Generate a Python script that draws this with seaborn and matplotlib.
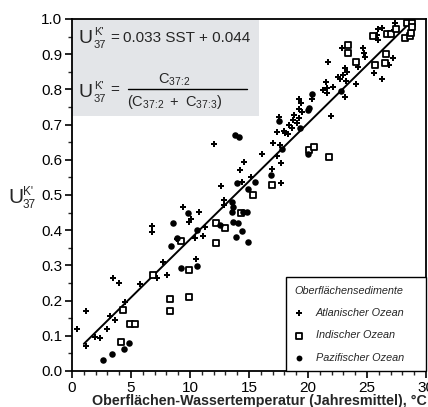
import matplotlib
matplotlib.use("Agg")
import matplotlib.pyplot as plt
import seaborn as sns
import pandas as pd
from matplotlib.patches import Rectangle
from matplotlib.lines import Line2D
from matplotlib.ticker import MultipleLocator

# ---- data ----
atl_sst = [0.42, 1.19, 1.19, 1.98, 2.37, 2.97, 3.25, 3.45, 3.67, 3.95, 4.46, 5.79, 6.75, 6.75,
           7.23, 7.68, 8.02, 8.93, 9.38, 9.9, 10.08, 10.45, 10.5, 10.79, 11.13, 11.3, 12.06,
           12.6, 12.88, 12.88, 14.26, 14.4, 14.6, 15.14, 16.1, 16.95, 17.06, 17.35, 17.37,
           17.57, 17.63, 17.68, 17.68, 17.99, 18.05, 18.28, 18.42, 18.62, 18.75, 18.84, 19.04,
           19.26, 19.26, 19.26, 19.38, 19.47, 20.36, 21.24, 21.53, 21.64, 21.64, 21.67, 21.92,
           22.09, 22.5, 22.7, 22.91, 23.0, 23.1, 23.14, 23.2, 23.3, 24.07, 24.26, 24.69, 24.75,
           24.83, 25.62, 25.87, 25.96, 25.96, 26.25, 26.27, 26.89, 27.09, 27.17, 27.37]
atl_uk = [0.119, 0.171, 0.071, 0.098, 0.093, 0.118, 0.156, 0.263, 0.145, 0.251, 0.197, 0.248,
          0.413, 0.396, 0.263, 0.311, 0.274, 0.375, 0.467, 0.423, 0.431, 0.379, 0.318, 0.453,
          0.384, 0.409, 0.644, 0.526, 0.486, 0.472, 0.571, 0.538, 0.593, 0.55, 0.616, 0.573,
          0.649, 0.678, 0.611, 0.722, 0.642, 0.533, 0.59, 0.683, 0.675, 0.673, 0.699, 0.69,
          0.713, 0.727, 0.704, 0.718, 0.743, 0.772, 0.762, 0.737, 0.773, 0.798, 0.82, 0.803,
          0.789, 0.879, 0.725, 0.806, 0.835, 0.83, 0.917, 0.84, 0.86, 0.777, 0.825, 0.85,
          0.815, 0.865, 0.917, 0.902, 0.893, 0.846, 0.955, 0.972, 0.94, 0.975, 0.829, 0.869,
          0.964, 0.89, 0.988]

ind_sst = [4.12, 4.32, 4.92, 5.31, 6.86, 8.28, 8.28, 9.21, 9.94, 9.94, 12.2, 12.2, 12.97, 14.3,
           15.37, 16.95, 20.1, 20.5, 21.8, 23.4, 23.4, 24.1, 25.55, 25.7, 26.55, 26.6, 26.72,
           27.0, 27.43, 28.2, 28.36, 28.64, 28.76, 28.81, 28.84]
ind_uk = [0.083, 0.173, 0.133, 0.134, 0.272, 0.204, 0.170, 0.368, 0.287, 0.210, 0.42, 0.365,
          0.405, 0.448, 0.5, 0.527, 0.628, 0.637, 0.609, 0.926, 0.904, 0.879, 0.951, 0.869,
          0.874, 0.9, 0.956, 0.957, 0.971, 0.945, 0.99, 0.952, 0.961, 0.99, 0.978]

pac_sst = [2.63, 3.39, 4.4, 4.8, 8.36, 8.53, 8.87, 9.21, 9.86, 10.56, 10.56, 12.54, 13.53, 13.6,
           13.67, 13.67, 13.81, 13.9, 14.0, 14.1, 14.13, 14.38, 14.5, 14.8, 14.94, 14.94, 15.5,
           16.84, 17.57, 17.82, 19.32, 20.0, 20.0, 20.1, 20.36, 22.77]
pac_uk = [0.031, 0.048, 0.062, 0.080, 0.356, 0.421, 0.377, 0.292, 0.448, 0.299, 0.401, 0.415,
          0.481, 0.451, 0.424, 0.467, 0.670, 0.380, 0.535, 0.42, 0.664, 0.399, 0.453, 0.451,
          0.366, 0.516, 0.538, 0.557, 0.711, 0.63, 0.689, 0.616, 0.741, 0.748, 0.787, 0.796]

line_sst = [1.0, 29.0]
line_uk = [0.077, 1.001]

series_labels = ["Atlanischer Ozean", "Indischer Ozean", "Pazifischer Ozean"]
legend_title = "Oberflächensedimente"
x_label = "Oberflächen-Wassertemperatur (Jahresmittel), °C"

# ---- style ----
sns.set_theme(style="ticks")
plt.rcParams["font.family"] = ["Liberation Sans", "DejaVu Sans"]
plt.rcParams["mathtext.fontset"] = "custom"
plt.rcParams["mathtext.rm"] = "Liberation Sans"
plt.rcParams["mathtext.it"] = "Liberation Sans:italic"
plt.rcParams["mathtext.bf"] = "Liberation Sans:bold"

fig = plt.figure(figsize=(4.28, 4.07), dpi=100)
ax = fig.add_axes([72 / 428, 36 / 407, 354 / 428, 352 / 407])

atl = pd.DataFrame({"sst": atl_sst, "uk": atl_uk})
ind = pd.DataFrame({"sst": ind_sst, "uk": ind_uk})
pac = pd.DataFrame({"sst": pac_sst, "uk": pac_uk})
reg = pd.DataFrame({"sst": line_sst, "uk": line_uk})

# gray equation box
ax.add_patch(Rectangle((0, 0.724), 15.85, 0.276, facecolor="#e3e5e8", edgecolor="none", zorder=0))

sns.lineplot(data=reg, x="sst", y="uk", color="black", lw=1.4, ax=ax, zorder=2)
sns.scatterplot(data=atl, x="sst", y="uk", marker="P", s=18, color="black", linewidth=0,
                ax=ax, label=series_labels[0], zorder=3)
sns.scatterplot(data=ind, x="sst", y="uk", marker="s", s=22, facecolor="white",
                edgecolor="black", linewidth=1.3, ax=ax, label=series_labels[1], zorder=3)
sns.scatterplot(data=pac, x="sst", y="uk", marker="o", s=22, color="black", linewidth=0,
                ax=ax, label=series_labels[2], zorder=3)

ax.set_xlim(0, 30)
ax.set_ylim(0, 1.0)
ax.xaxis.set_major_locator(MultipleLocator(5))
ax.xaxis.set_minor_locator(MultipleLocator(1))
ax.yaxis.set_major_locator(MultipleLocator(0.1))
ax.yaxis.set_minor_locator(MultipleLocator(0.05))
ax.set_xticklabels([f"{int(v)}" for v in ax.get_xticks()])
ax.set_yticklabels([f"{v:.1f}" for v in ax.get_yticks()])
ax.tick_params(which="major", direction="out", length=5, width=1.2, labelsize=11,
               pad=2, colors="black")
ax.tick_params(which="minor", direction="out", length=3, width=1.0)
for sp in ax.spines.values():
    sp.set_visible(True)
    sp.set_linewidth(1.3)
    sp.set_color("black")

ax.set_xlabel(x_label, fontsize=10.3, fontweight="bold")
ax.xaxis.set_label_coords(0.528, -0.066)
ax.set_ylabel("")


def P(px, py):
    return ((px - 72) / 354, (371 - py) / 352)


def put(px, py, s, size, ha="left", va="baseline", **kw):
    ax.text(*P(px, py), s, transform=ax.transAxes, fontsize=size, ha=ha, va=va,
            clip_on=False, **kw)


def ukprime(px, py, big=14, small=8):
    put(px, py, "U", big)
    put(px + 15, py - 8, "K'", small)
    put(px + 15, py + 5, "37", small)


# equation 1
ukprime(79, 43)
put(110, 42, "=", 11)
put(123, 42, "0.033 SST + 0.044", 11)

# equation 2
ukprime(79, 97)
put(110, 94, "=", 11)
put(174.5, 84, r"$\mathregular{C_{37\!:\!2}}$", 10.5, ha="center")
put(174.5, 106, r"$\mathregular{(C_{37\!:\!2}\ +\ C_{37\!:\!3})}$", 10.5, ha="center")
ax.add_line(Line2D([P(128, 0)[0], P(247, 0)[0]], [P(0, 88.5)[1]] * 2, transform=ax.transAxes,
                   color="black", lw=1.0, clip_on=False))

# y label
ukprime(8, 203, big=15, small=8.5)

# legend
handles, labels = ax.get_legend_handles_labels()
leg = ax.legend(handles, labels, title=legend_title, loc="lower left",
                bbox_to_anchor=(0.6045, 0.0, 0.3955, 0.27), mode="expand",
                borderaxespad=0, frameon=True, fancybox=False, edgecolor="black",
                framealpha=1, prop={"style": "italic", "size": 7.8},
                title_fontproperties={"style": "italic", "size": 7.8},
                alignment="left", labelspacing=1.15, handletextpad=1.1, borderpad=0.75,
                handlelength=0.9, markerscale=0.9)
leg.get_frame().set_linewidth(1.0)

fig.savefig("out.png", dpi=100)
